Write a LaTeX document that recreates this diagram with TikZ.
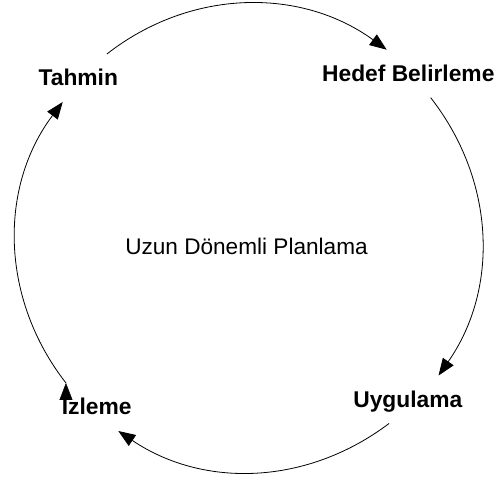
\documentclass[tikz,border=0pt]{standalone}
\usepackage{fontspec}
\setmainfont{Liberation Sans}
\usetikzlibrary{arrows.meta}
\tikzset{
>={Triangle[length=17pt,width=13pt]}, % solid heads
->, % every edge of the cycle is directed
every edge/.style={draw, line width=0.8pt, looseness=0.97}, % thin arcs
stage/.style={font=\bfseries\fontsize{22.8}{27}\selectfont, text height=16pt, text depth=0pt,
  inner xsep=2pt, inner ysep=16pt, outer sep=0pt}, % one stage of the cycle
}

\begin{document}
\begin{tikzpicture}[x=1pt, y=1pt]
        \useasboundingbox (0,0) rectangle (496,480);

        \node[stage] (tahmin) at (78.3,402) {Tahmin};
        \node[stage] (hedef) at (408.3,406.3) {Hedef Belirleme};
        \node[stage] (uygulama) at (407.8,80.5) {Uygulama};
        \node[stage] (izleme) at (96.7,73) {İzleme};
        \node[font=\fontsize{22.6}{27}\selectfont, anchor=base] (plan) at (246.5,225.7) {Uzun Dönemli Planlama};

        % arcs of one circle, clockwise
        \draw (tahmin.40) edge[out=38, in=144] (hedef.132)
        (hedef.-47) edge[out=-52, in=55] (uygulama.38)
        (uygulama.-128) edge[out=217, in=-34] (izleme.-48)
        (izleme.142) edge[out=128, in=233] (tahmin.-123);
      \end{tikzpicture}
\end{document}
